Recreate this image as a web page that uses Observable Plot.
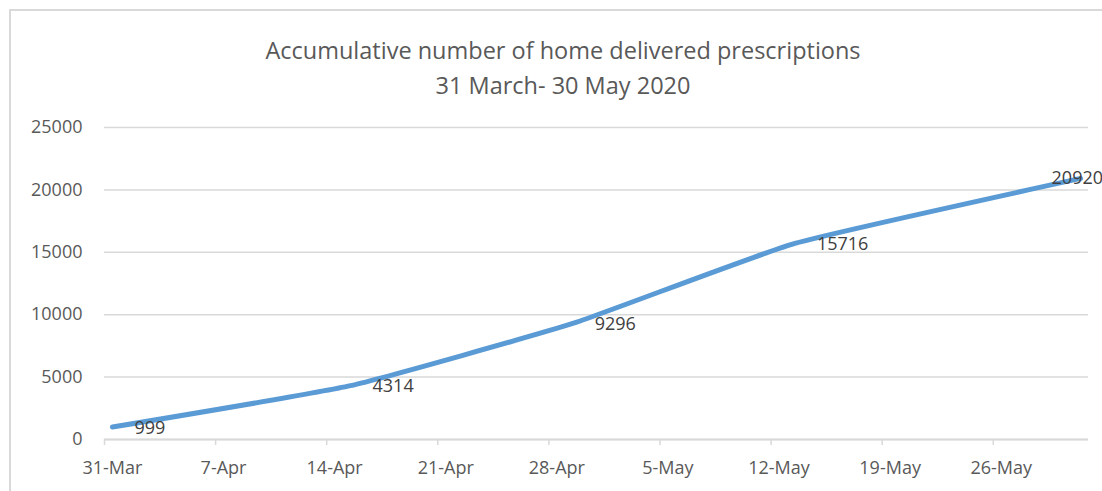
<!DOCTYPE html>
<html>
<head>
<meta charset="utf-8">
<script src="https://cdn.jsdelivr.net/npm/d3@7"></script>
<script src="https://cdn.jsdelivr.net/npm/@observablehq/plot@0.6"></script>
<style>
  html, body { margin: 0; padding: 0; background: #fff; }
  #wrap { position: relative; width: 1102px; height: 491px; overflow: hidden; font-family: "Open Sans", sans-serif; }
  #frame { position: absolute; left: 9px; top: 9px; width: 1200px; height: 600px; border-left: 2px solid #d9d9d9; border-top: 2px solid #d9d9d9; box-sizing: border-box; }
  #title { position: absolute; left: 0; width: 1126px; top: 33px; text-align: center; color: #595959; font-size: 23.5px; line-height: 35px; font-weight: 400; }
  #chart { position: absolute; left: 0; top: 0; }
</style>
</head>
<body>
<div id="wrap">
  <div id="frame"></div>
  <div id="chart"></div>
  <div id="title">Accumulative number of home delivered prescriptions<br>31 March- 30 May 2020</div>
</div>
<script>
// Data
const dates = ["2020-03-31", "2020-04-15", "2020-04-29", "2020-05-13", "2020-05-31"];
const values = [999, 4314, 9296, 15716, 20920];
const xTickDates = ["2020-03-31", "2020-04-07", "2020-04-14", "2020-04-21", "2020-04-28", "2020-05-05", "2020-05-12", "2020-05-19", "2020-05-26"];
const yTicks = [0, 5000, 10000, 15000, 20000, 25000];

const data = dates.map((d, i) => ({date: new Date(d + "T00:00:00Z"), value: values[i]}));
const labelTicks = xTickDates.map(d => new Date(d + "T00:00:00Z"));
const edgeTicks = labelTicks.map(d => d3.utcHour.offset(d, -12));
const fmt = d3.utcFormat("%-d-%b");
const domainStart = d3.utcHour.offset(new Date("2020-03-31T00:00:00Z"), -12);
const domainEnd = d3.utcHour.offset(new Date("2020-05-31T00:00:00Z"), 12);

const lastDatum = data[data.length - 1];
const otherData = data.slice(0, -1);

const chart = Plot.plot({
  width: 1102,
  height: 491,
  marginLeft: 104,
  marginRight: 14,
  marginTop: 127,
  marginBottom: 52,
  style: {fontFamily: "'Open Sans', sans-serif", fontSize: "18px", color: "#595959", background: "transparent", overflow: "hidden"},
  x: {type: "utc", domain: [domainStart, domainEnd]},
  y: {domain: [0, 25000]},
  marks: [
    Plot.gridY(yTicks, {stroke: "#d9d9d9", strokeOpacity: 1, strokeWidth: 1.5}),
    Plot.axisY(yTicks, {tickSize: 0, tickPadding: 22, tickFormat: d => String(d), fill: "#595959", fontSize: 18, label: null}),
    Plot.ruleY([0], {stroke: "#d9d9d9", strokeWidth: 2}),
    Plot.axisX(edgeTicks, {tickSize: 6, tickFormat: () => "", stroke: "#d9d9d9", strokeWidth: 1.5, label: null}),
    Plot.axisX(labelTicks, {tickSize: 0, tickPadding: 22, tickFormat: fmt, fill: "#595959", fontSize: 18, label: null}),
    Plot.line(data, {x: "date", y: "value", stroke: "#5b9bd5", strokeWidth: 5, curve: "cardinal", tension: 0.6, strokeLinecap: "round", strokeLinejoin: "round"}),
    Plot.text(otherData, {x: "date", y: "value", text: d => String(d.value), textAnchor: "start", dx: 22, dy: 1, fill: "#404040", fontSize: 18}),
    Plot.text([lastDatum], {x: "date", y: "value", text: d => String(d.value), textAnchor: "start", dx: -29, dy: 0, fill: "#404040", fontSize: 18})
  ]
});
document.getElementById("chart").appendChild(chart);
</script>
</body>
</html>
